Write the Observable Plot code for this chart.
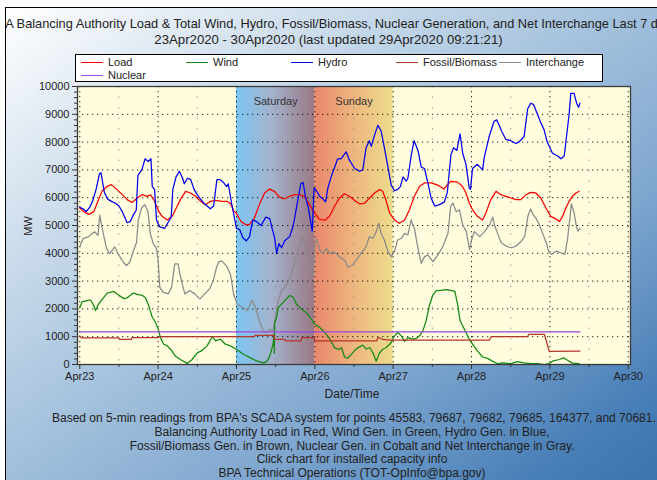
<!DOCTYPE html>
<html><head><meta charset="utf-8">
<script src="https://cdn.jsdelivr.net/npm/d3@7"></script>
<script src="https://cdn.jsdelivr.net/npm/@observablehq/plot@0.6"></script>
<style>
html,body{margin:0;padding:0;background:#fff;}
#wrap{position:relative;width:657px;height:480px;overflow:hidden;font-family:"Liberation Sans",Arial,sans-serif;color:#222;background:#fff;}
#frame{position:absolute;left:5px;top:7px;width:660px;height:480px;border-left:1px solid #000;border-top:1px solid #000;
 background:linear-gradient(to bottom right,#ffffff 0%,#d3e1ee 22%,#a8c4de 45%,#7ea6cf 68%,#4a80b8 88%,#3b72ad 100%);}
#chart{position:absolute;left:0;top:0;}
.t{position:absolute;white-space:nowrap;font-size:12px;line-height:14px;}
#titleclip{position:absolute;left:6px;top:17px;width:651px;height:16px;overflow:hidden;}
#titleclip div{position:absolute;left:-198px;width:1051px;text-align:center;font-size:12.8px;line-height:14px;white-space:nowrap;}
#legend{position:absolute;left:75px;top:54px;width:526px;height:26px;border:1px solid #000;background:#fff;font-size:11px;}
#legend .it{position:absolute;height:13px;line-height:13px;white-space:nowrap;}
#legend .ln{position:absolute;top:6px;width:22px;height:0;border-top:1px solid;}
#legend .tx{position:absolute;left:27px;top:0;}
.cap{position:absolute;left:52px;width:600px;text-align:center;font-size:12px;line-height:14px;white-space:nowrap;}
</style></head>
<body>
<div id="wrap">
  <div id="frame"></div>
  <div id="titleclip"><div>BPA Balancing Authority Load &amp; Total Wind, Hydro, Fossil/Biomass, Nuclear Generation, and Net Interchange Last 7 days</div></div>
  <div class="t" id="sub" style="left:0;width:657px;text-align:center;top:33px;font-size:13.2px;">23Apr2020 - 30Apr2020 (last updated 29Apr2020 09:21:21)</div>
  <div id="chart"></div>
  <div id="legend"></div>
  <div class="t" style="left:18px;top:219px;font-size:11px;transform:rotate(-90deg);transform-origin:center;">MW</div>
  <div class="cap" style="top:387px;">Date/Time</div>
  <div class="cap" style="top:411px;">Based on 5-min readings from BPA's SCADA system for points 45583, 79687, 79682, 79685, 164377, and 70681.</div>
  <div class="cap" style="top:425px;">Balancing Authority Load in Red, Wind Gen. in Green, Hydro Gen. in Blue,</div>
  <div class="cap" style="top:439px;">Fossil/Biomass Gen. in Brown, Nuclear Gen. in Cobalt and Net Interchange in Gray.</div>
  <div class="cap" style="top:452px;">Click chart for installed capacity info</div>
  <div class="cap" style="top:466px;">BPA Technical Operations (TOT-OpInfo@bpa.gov)</div>
</div>
<script>
// ---- data: [hours since 23Apr2020 00:00, MW] ----
const loadMW = [[0,5630],[1.2,5500],[2.8,5400],[4.3,5500],[5.3,5800],[6.8,6230],[8.4,6410],[9.7,6470],[11.4,6290],[13,6110],[14.5,5930],[16,5830],[17.6,5990],[19.1,6110],[20.6,6050],[21.7,6100],[22.7,5930],[24.2,5510],[25.2,5330],[26.8,5200],[28.3,5330],[29.3,5570],[30.8,5930],[32.4,6230],[33.9,6170],[35.4,6050],[37,5870],[38.5,5750],[40,5870],[41.6,5900],[43.6,5870],[45.1,5870],[46.2,5780],[47.2,5510],[47.9,5450],[49.4,5140],[51,5020],[52,5040],[53.5,5270],[55,5750],[56.6,6170],[58.1,6310],[59.6,6230],[61.2,6020],[62.7,5960],[64.2,6050],[65.8,6110],[67.3,6110],[68.8,6050],[70.4,5750],[71.9,5450],[73.4,5230],[75,5180],[76.5,5330],[78,5690],[79.6,5990],[81.1,6140],[82.6,6050],[84.2,5900],[85.7,5780],[87.2,5800],[88.8,5990],[90.3,6170],[91.8,6290],[92.8,6230],[93.9,5870],[94.9,5450],[96.4,5200],[97.9,5080],[99.5,5200],[101,5570],[102.5,6050],[104.1,6410],[105.6,6530],[107.6,6530],[109.7,6450],[111.6,6310],[112.6,6470],[113.7,6590],[115.7,6560],[117.2,6410],[118.3,6170],[119.3,5810],[120.3,5570],[121.8,5330],[123.4,5200],[124.4,5450],[125.9,5930],[127.5,6230],[129,6110],[130.5,6050],[132.1,5990],[133.6,5930],[135.1,5930],[136.7,6110],[138.2,6190],[139.7,6170],[141.2,5990],[142.8,5630],[144.3,5330],[145.8,5240],[146.9,5140],[147.9,5330],[148.9,5630],[149.9,5870],[150.9,6050],[152,6170],[153,6230]];

const windMW = [[0,2040],[0.7,2250],[2.2,2300],[3.3,2320],[4.3,2120],[4.8,1940],[5.8,2180],[6.8,2330],[8.4,2570],[10.4,2630],[12,2490],[13.5,2370],[14.5,2400],[15.5,2490],[16.5,2570],[17.6,2520],[19.1,2490],[20.1,2400],[21.1,2120],[22.2,1700],[23.2,1520],[24.2,1210],[24.7,970],[25.7,730],[26.8,670],[27.8,550],[29.3,300],[30.8,180],[32.9,40],[34.4,180],[36,420],[37.5,510],[39,670],[40.6,1000],[41.6,850],[43.1,910],[44.6,730],[46.2,670],[47.9,550],[50.3,360],[52.3,240],[54.3,120],[56.4,60],[57.4,120],[58.2,300],[59.2,720],[59.5,1090],[59.6,400],[59.7,1500],[60.3,1690],[60.8,2050],[61.8,2170],[63.3,2360],[64.3,2480],[65.4,2420],[66.4,2170],[67.9,1990],[69.4,1870],[70.9,1630],[72,1450],[73.5,1330],[75.1,1150],[76.6,910],[78.1,600],[79.2,540],[80.2,600],[81.1,270],[82.1,220],[83.6,420],[84.9,580],[86.7,700],[87.7,550],[88.8,610],[89.8,420],[90.8,120],[91.8,420],[92.8,550],[93.9,610],[95.4,790],[96.4,1030],[97.4,1150],[98.5,1030],[99.5,830],[100.5,970],[102,910],[103.1,940],[104.1,1030],[105.1,1210],[106.1,1580],[107.1,2120],[108.1,2490],[109.1,2650],[110.7,2670],[112.2,2690],[113.7,2670],[114.9,2630],[115.7,2180],[116.5,1580],[117.8,1270],[119.3,910],[120.3,730],[121.8,490],[123.4,270],[124.9,220],[126.4,120],[128,25],[129.5,60],[132.1,30],[134.1,100],[136.1,60],[138.2,30],[140.2,30],[142.3,0],[143.8,30],[144.8,120],[146.9,180],[148.2,240],[149.4,150],[150.9,50],[153,30]];

const hydroMW = [[0,5650],[1,5600],[2,5500],[3,5650],[4,5900],[5,6300],[6,6850],[6.5,6900],[7.5,6200],[8.5,5950],[10,5850],[11,5800],[12,5700],[13,5500],[14.5,5100],[15.5,5150],[16.5,5400],[17.3,5550],[17.8,6800],[19,7000],[20,7400],[21,7300],[21.8,7400],[22.2,6400],[22.9,6300],[23.5,5200],[24.5,4950],[26,4900],[27,5100],[28,5300],[28.5,6300],[29.5,6750],[30.5,6950],[31.5,6700],[32,6500],[33,6700],[34,6650],[35,6300],[36,6100],[37,5950],[38,5800],[40,5600],[41,5700],[42,6650],[43,6650],[44,6550],[45,6400],[45.5,6500],[46.5,5800],[48,4900],[49,4850],[50,4550],[51,4450],[52,4600],[53,5200],[54,5150],[55.5,5000],[57,5300],[58.2,5250],[59,4850],[59.7,4550],[60.3,4000],[61,4350],[61.8,4200],[62.8,4450],[64.3,4600],[65.4,5000],[66.4,5650],[67.7,6500],[68.4,6550],[69.1,6050],[70,5650],[71.2,4800],[71.8,6350],[72.5,6250],[73.5,6050],[74.5,5950],[75.3,5850],[76,6350],[77,6750],[79,7400],[80,7400],[81.6,7650],[82.6,7350],[84.2,7050],[85.7,6950],[86.7,7000],[87.7,7800],[88.7,8050],[89.3,7850],[90.3,8250],[91.3,8600],[92.3,8400],[93.3,7800],[94.4,7100],[95.4,6450],[96.4,6250],[97.4,6300],[98.2,6400],[99,6750],[100,6600],[100.5,6700],[101.5,7500],[102.4,8050],[103.6,7700],[104.6,7100],[105.6,7050],[106.6,6550],[107.6,6000],[108.7,5700],[110.2,5750],[111.7,5850],[112.6,6200],[113.7,7550],[114.5,7800],[115.5,7700],[116.5,8300],[117.3,7600],[118.3,7200],[119.3,6350],[119.7,6300],[120.3,7050],[121.8,7200],[123.4,7000],[123.9,7450],[124.7,7850],[125.4,8200],[126.9,8750],[127.7,8800],[128.5,8600],[129.2,8400],[130.5,8100],[132,8050],[133.6,7950],[134.5,8000],[136.1,8200],[137.2,9200],[138.2,9400],[139,9350],[140.2,9000],[141.2,8700],[142.2,8450],[143.2,8000],[144.8,7600],[146.4,7500],[147.4,7400],[148.4,7500],[149.2,8300],[149.9,9000],[150.4,9750],[151.4,9750],[152.2,9400],[152.8,9250],[153.2,9400]];

const fossilMW = [[0,1030],[0.5,960],[12,960],[12.2,900],[15.8,900],[16,970],[24,970],[24.5,1000],[53.5,1000],[53.7,1050],[59.5,1050],[59.7,900],[62.8,900],[63,850],[67.8,850],[68,970],[71.8,970],[72,850],[91,850],[91.3,980],[92.8,900],[95,880],[125.5,880],[126,1000],[137.2,1000],[137.5,1080],[142.3,1080],[142.8,900],[143.8,470],[153.2,480]];

const interchangeMW = [[0,4230],[1,4530],[2.6,4590],[3.6,4700],[4.6,4770],[5.6,4650],[6.1,5370],[7.2,4710],[8.2,4170],[9.2,3990],[10.7,4230],[11.7,3990],[13.3,3680],[14.3,3560],[15.3,3680],[16.3,4050],[17.4,4400],[17.9,5190],[18.9,5620],[19.9,5750],[20.9,5500],[21.6,4710],[22.5,4350],[23.5,4170],[24,3740],[24.5,2780],[25.5,2600],[27.1,2540],[28.1,2780],[29.1,3620],[30.1,3620],[31.1,3020],[32.2,2540],[33.7,2660],[35.2,2540],[36.8,2360],[38.3,2540],[39.8,2730],[40.9,3020],[41.9,3500],[42.6,3700],[43.6,3720],[45.1,3520],[46.2,3220],[47.2,2490],[48.2,2180],[49.7,2060],[51.3,1940],[52.8,2310],[53.8,2060],[55.2,1510],[56.2,1210],[57.2,1150],[58.2,1270],[59.2,1210],[59.7,1570],[60.8,2290],[61.8,2660],[62.8,2780],[63.8,2960],[64.8,3260],[65.9,3740],[66.9,4110],[67.7,4470],[68.4,4590],[69.1,4110],[69.9,3990],[71,3260],[71.5,3200],[72,4350],[72.5,4530],[73.5,4110],[74.6,3990],[75.6,4170],[76.6,3990],[77.6,4050],[78.6,3990],[79.7,3860],[81.2,3740],[82.2,3500],[83.6,3580],[84.7,3760],[86.2,4000],[87.7,4240],[88.7,4600],[89.8,4540],[90.8,4780],[91.6,5080],[92.3,4720],[93.3,4480],[94.4,4060],[95.4,3880],[96.4,4060],[97.4,4480],[98.5,4540],[99.5,4720],[100.5,4660],[101.5,5200],[102.5,4900],[103.6,4180],[104.6,3640],[105.6,3880],[106.6,3940],[108.2,3700],[109.7,3940],[111.2,4240],[112.8,4720],[113.6,5690],[114.3,5810],[115.3,5500],[116.3,5560],[117.3,5020],[118.4,4780],[119.4,4120],[120,4480],[120.9,4780],[122.5,4600],[124,4780],[125.5,5020],[126.5,5300],[127.1,4990],[128.1,4680],[129.1,4380],[130.6,4260],[132.2,4200],[133.7,4260],[135.3,4440],[136.3,4620],[137.3,5350],[138.1,5590],[138.8,5400],[139.9,5230],[140.9,4990],[141.9,4680],[142.9,4380],[143.6,4080],[144.5,3960],[146,4080],[147.5,4010],[148.6,3960],[149.4,4500],[150.1,5230],[150.6,5770],[151.4,5470],[152.1,4990],[152.6,4800],[153.2,4900]];

const nuclearMW = [[0,1170],[153.2,1170]];

const seriesNames  = ["Load","Wind","Hydro","Fossil/Biomass","Interchange","Nuclear"];
const seriesColors = ["#ff0000","#138a13","#0000ee","#b3352c","#8a8a8a","#9a46e0"];
const seriesData   = [loadMW, windMW, hydroMW, fossilMW, interchangeMW, nuclearMW];

const dayLabels = ["Saturday","Sunday"];
const dayLabelHours = [60, 84];
const bandStartHours = [48, 72];
const bandEndHours = [72, 96];
const dayNames = ["Apr23","Apr24","Apr25","Apr26","Apr27","Apr28","Apr29","Apr30"];

// ---- build ----
const base = Date.UTC(2020, 3, 23);
const t = h => new Date(base + h * 3600e3);
const dayTicks = dayNames.map((_, i) => t(i * 24));
const noonTicks = d3.range(0, 7).map(i => t(i * 24 + 12));
const yMajor = d3.range(0, 10001, 1000);
const yMinor = d3.range(0, 10001, 200).filter(v => v % 1000 !== 0);
const toRows = arr => arr.map(([h, v]) => ({t: t(h), v}));
const bands = bandStartHours.map((s, i) => ({start: t(s), end: t(bandEndHours[i])}));
const labels = dayLabels.map((l, i) => ({t: t(dayLabelHours[i]), label: l}));

const drawOrder = [4, 1, 3, 5, 0, 2];
const lineMarks = drawOrder.map(i => Plot.line(toRows(seriesData[i]), {x: "t", y: "v", stroke: seriesColors[i], strokeWidth: 1.25, curve: "linear"}));

const svg = Plot.plot({
  width: 657, height: 480,
  marginLeft: 77, marginRight: 27, marginTop: 86, marginBottom: 116,
  style: {background: "transparent", fontFamily: "'Liberation Sans', Arial, sans-serif", fontSize: "11px", color: "#222", overflow: "visible"},
  x: {type: "utc", domain: [t(-0.7), t(168.7)]},
  y: {domain: [0, 10000]},
  marks: [
    Plot.frame({fill: "#fffddd", stroke: null}),
    Plot.rect([bands[0]], {x1: "start", x2: "end", fill: "url(#gSat)"}),
    Plot.rect([bands[1]], {x1: "start", x2: "end", fill: "url(#gSun)"}),
    Plot.gridX(noonTicks, {stroke: "#9a9a9a", strokeOpacity: 1, strokeDasharray: "1.5,9"}),
    Plot.gridX(dayTicks, {stroke: "#000", strokeOpacity: 0.85, strokeDasharray: "1.3,3.7"}),
    Plot.gridY(yMajor.slice(1, -1), {stroke: "#000", strokeOpacity: 0.85, strokeDasharray: "1.3,3.7"}),
    Plot.text(labels, {x: "t", text: "label", frameAnchor: "top", dy: 11, fill: "#333", fontSize: 11}),
    ...lineMarks,
    Plot.frame({stroke: "#3a3a3a", strokeWidth: 1.3}),
    Plot.axisY(yMajor, {tickSize: 5, tickPadding: 3, tickFormat: d => String(d), label: null, stroke: "#333", fill: "#222"}),
    Plot.axisY(yMinor, {tickSize: 3, tickFormat: () => "", label: null, stroke: "#333"}),
    Plot.axisX(dayTicks, {tickSize: 5, tickPadding: 3, tickFormat: (d, i) => dayNames[i], label: null, stroke: "#333", fill: "#222"}),
    Plot.axisX(noonTicks, {tickSize: 3, tickFormat: () => "", label: null, stroke: "#333"})
  ]
});

const ns = "http://www.w3.org/2000/svg";
const defs = document.createElementNS(ns, "defs");
defs.innerHTML = '<linearGradient id="gSat" x1="0" x2="1" y1="0" y2="0">' +
  '<stop offset="0" stop-color="#7dc6f3"/><stop offset="0.45" stop-color="#a4b3cd"/><stop offset="1" stop-color="#9a7884"/></linearGradient>' +
  '<linearGradient id="gSun" x1="0" x2="1" y1="0" y2="0">' +
  '<stop offset="0" stop-color="#e8876c"/><stop offset="0.5" stop-color="#eeb67f"/><stop offset="1" stop-color="#ecdc8c"/></linearGradient>';
svg.insertBefore(defs, svg.firstChild);
document.getElementById("chart").appendChild(svg);

// legend
const legendPos = [[5, 7], [110, 7], [215, 7], [320, 7], [423, 7], [5, 20]];
const lg = document.getElementById("legend");
seriesNames.forEach((name, i) => {
  const it = document.createElement("div");
  it.className = "it";
  it.style.left = legendPos[i][0] + "px";
  it.style.top = (legendPos[i][1] - 6) + "px";
  it.innerHTML = '<div class="ln" style="border-color:' + seriesColors[i] + '"></div><div class="tx">' + name + '</div>';
  lg.appendChild(it);
});
</script>
</body></html>
